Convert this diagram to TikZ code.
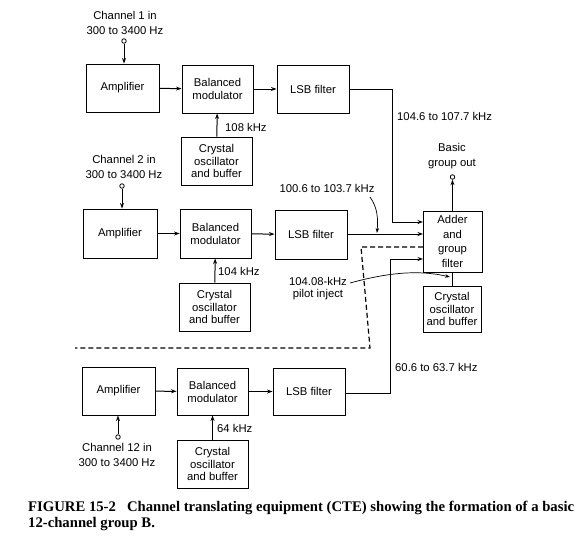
\documentclass[tikz,border=0pt]{standalone}
\usepackage{fontspec}
\setmainfont{Liberation Sans}
\newfontfamily\capfont{Liberation Serif}
\usetikzlibrary{arrows.meta}
\begin{document}
\begin{tikzpicture}[x=1pt,y=-1pt,
  blk/.style={draw,line width=0.9pt,inner sep=0pt,align=center,font=\fontsize{11.3}{13}\selectfont},
  lbl/.style={inner sep=0pt,align=center,font=\fontsize{11.3}{15}\selectfont},
  conn/.style={line width=1pt,-{Stealth[length=5.5pt,width=4pt]}},
  term/.style={circle,draw,line width=0.8pt,inner sep=0pt,minimum size=4.5pt,fill=white}]
\useasboundingbox (0,0) rectangle (583,538);
% boxes
\node[blk,minimum width=73pt,minimum height=48pt] (amp1) at (122.5,88) {Amplifier};
\node[blk,minimum width=71pt,minimum height=48pt] (mod1) at (217.5,89) {Balanced\\modulator};
\node[blk,minimum width=72pt,minimum height=48pt] (lsb1) at (313,89) {LSB filter};
\node[blk,minimum width=71pt,minimum height=48pt,font=\fontsize{11.3}{12.5}\selectfont] (osc1) at (216.5,161) {Crystal\\oscillator\\and buffer};
\node[blk,minimum width=74pt,minimum height=49pt] (amp2) at (120,233.5) {Amplifier};
\node[blk,minimum width=71pt,minimum height=49pt] (mod2) at (215.5,233.5) {Balanced\\modulator};
\node[blk,minimum width=72pt,minimum height=49pt] (lsb2) at (311,234.5) {LSB filter};
\node[blk,minimum width=71pt,minimum height=48pt,font=\fontsize{11.3}{12.5}\selectfont] (osc2) at (214.5,307) {Crystal\\oscillator\\and buffer};
\node[blk,minimum width=73pt,minimum height=48pt] (amp3) at (118.5,391) {Amplifier};
\node[blk,minimum width=71pt,minimum height=47pt] (mod3) at (212.5,391.5) {Balanced\\modulator};
\node[blk,minimum width=72pt,minimum height=47pt] (lsb3) at (309,391.5) {LSB filter};
\node[blk,minimum width=71pt,minimum height=48pt,font=\fontsize{11.3}{12.5}\selectfont] (osc3) at (212.5,464) {Crystal\\oscillator\\and buffer};
\node[blk,minimum width=59pt,minimum height=61pt,font=\fontsize{11.3}{14.5}\selectfont] (add) at (452.5,241.5) {Adder\\and\\group\\filter};
\node[blk,minimum width=58pt,minimum height=46pt,font=\fontsize{11.3}{12.5}\selectfont] (osc4) at (452,309) {Crystal\\oscillator\\and buffer};
% terminals
\node[term] (in1) at (124,41) {};
\node[term] (in2) at (122,186) {};
\node[term] (in3) at (118,437) {};
\node[term] (out) at (452.5,177) {};
% labels
\node[lbl] (t1) at (125,23) {Channel 1 in\\300 to 3400 Hz};
\node[lbl] (t2) at (124,167) {Channel 2 in\\300 to 3400 Hz};
\node[lbl] (t3) at (117,455) {Channel 12 in\\300 to 3400 Hz};
\node[lbl,anchor=west] (f1) at (225,127) {108 kHz};
\node[lbl,anchor=west] (f2) at (218,271) {104 kHz};
\node[lbl,anchor=west] (f3) at (217,428) {64 kHz};
\node[lbl,anchor=west] (b1) at (397,116) {104.6 to 107.7 kHz};
\node[lbl] (b2) at (327,188) {100.6 to 103.7 kHz};
\node[lbl,anchor=west] (b3) at (395,367) {60.6 to 63.7 kHz};
\node[lbl] (bo) at (452,156) {Basic\\group out};
\node[lbl,font=\fontsize{11.3}{12}\selectfont] (pil) at (318,289) {104.08-kHz\\pilot inject};
% coordinates
\coordinate (c1a) at (392,89);
\coordinate (c1b) at (392,222);
\coordinate (a1) at (423,222);
\coordinate (a2) at (423,234);
\coordinate (a3) at (423,259);
\coordinate (c3a) at (390,393);
\coordinate (c3b) at (390,259);
\coordinate (d0) at (423,247);
\coordinate (d1) at (361,247);
\coordinate (d2) at (370,348);
\coordinate (d3) at (75,348);
\coordinate (p0) at (350,283);
\coordinate (p1) at (450,277);
\coordinate (q0) at (370,197);
\coordinate (q1) at (377,233);
% connectors
\draw[conn] (in1) -- (amp1.north -| in1);
\draw[conn] (in2) -- (amp2.north -| in2);
\draw[conn] (in3) -- (amp3.south -| in3);
\draw[conn] (amp1) -- (mod1);
\draw[conn] (mod1) -- (lsb1);
\draw[conn] (amp2) -- (mod2);
\draw[conn] (mod2) -- (lsb2);
\draw[conn] (amp3) -- (mod3);
\draw[conn] (mod3) -- (lsb3);
\draw[conn] (osc1) -- (mod1);
\draw[conn] (osc2) -- (mod2);
\draw[conn] (osc3) -- (mod3);
\draw[conn] (lsb1.east) -- (c1a) -- (c1b) -- (a1);
\draw[conn] (lsb2.east |- a2) -- (a2);
\draw[conn] (lsb3.east |- c3a) -- (c3a) -- (c3b) -- (a3);
\draw[conn] (add.north -| out) -- (out);
\draw[line width=0.9pt] (osc4.north -| add.south) -- (add.south);
\draw[line width=1.2pt,dash pattern=on 5pt off 3pt] (d0) -- (d1) -- (d2) -- (d3);
\draw[line width=0.7pt,-{Stealth[length=5pt,width=3.5pt]}] (p0) .. controls (390,272) and (420,270) .. (p1);
\draw[line width=0.7pt,-{Stealth[length=5pt,width=3.5pt]}] (q0) .. controls (378,208) and (378,220) .. (q1);
% caption
\node[anchor=north west,inner sep=0pt,align=left,font=\capfont\bfseries\fontsize{14.7}{15.5}\selectfont] (cap) at (28,501) {FIGURE 15-2\ \ \ Channel translating equipment (CTE) showing the formation of a basic\\12-channel group B.};
\end{tikzpicture}
\end{document}
